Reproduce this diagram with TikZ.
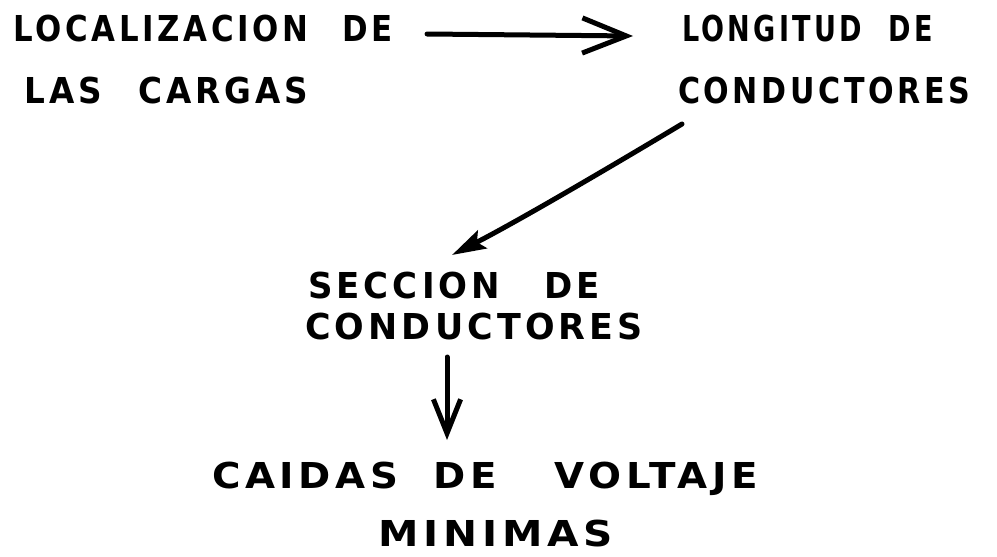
\documentclass[tikz,border=0pt]{standalone}
\usepackage{fontspec}
\usepackage{graphicx}
\usetikzlibrary{arrows.meta}
\newfontfamily\hand[LetterSpace=12]{DejaVu Sans}
\newcommand\hw[2]{{\hand\bfseries\resizebox{#1}{26pt}{\raisebox{0pt}[\fontcharht\font`H][0pt]{#2}}}}
\tikzset{
  lbl/.style={anchor=west, inner sep=0pt, outer sep=0pt},
  conn/.style={line width=5pt, line cap=round, line join=round},
  openhead/.style={-{Straight Barb[length=#1, width=#1*0.8, line width=5pt]}},
}
\begin{document}
\begin{tikzpicture}[x=1pt, y=-1pt]
  \fill[white] (0,0) rectangle (997,557);
  \useasboundingbox (0,0) rectangle (997,557);
  % texts
  \node[lbl] (a1) at (13,28)  {\hw{380pt}{LOCALIZACION\hspace{1.1em}DE}};
  \node[lbl] (a2) at (25,90)  {\hw{283pt}{LAS\hspace{1.1em}CARGAS}};
  \node[lbl] (b1) at (682,28) {\hw{251pt}{LONGITUD\hspace{1em}DE}};
  \node[lbl] (b2) at (678,90) {\hw{292pt}{CONDUCTORES}};
  \node[lbl] (c1) at (308,285) {\hw{292pt}{SECCION\hspace{1.3em}DE}};
  \node[lbl] (c2) at (305,326) {\hw{338pt}{CONDUCTORES}};
  \node[lbl] (d1) at (212,475) {\hw{546pt}{CAIDAS\hspace{0.9em}DE\hspace{1.5em}VOLTAJE}};
  \node[lbl] (d2) at (378,533) {\hw{235pt}{MINIMAS}};
  % connectors
  \draw[conn, openhead=44pt] ([xshift=34pt, yshift=-6pt]a1.east) -- ([xshift=-49pt, yshift=-8pt]b1.west);
  \draw[conn, -{Stealth[length=34pt, width=20pt, inset=6pt]}]
    ([xshift=4pt, yshift=-21pt]b2.south west) .. controls ++(-60,36) and ++(70,-36) .. ([xshift=144pt, yshift=17pt]c1.north west);
  \draw[conn, openhead=34pt] ([xshift=142pt, yshift=-18pt]c2.south west) -- ([xshift=235pt, yshift=22pt]d1.north west);
\end{tikzpicture}
\end{document}
